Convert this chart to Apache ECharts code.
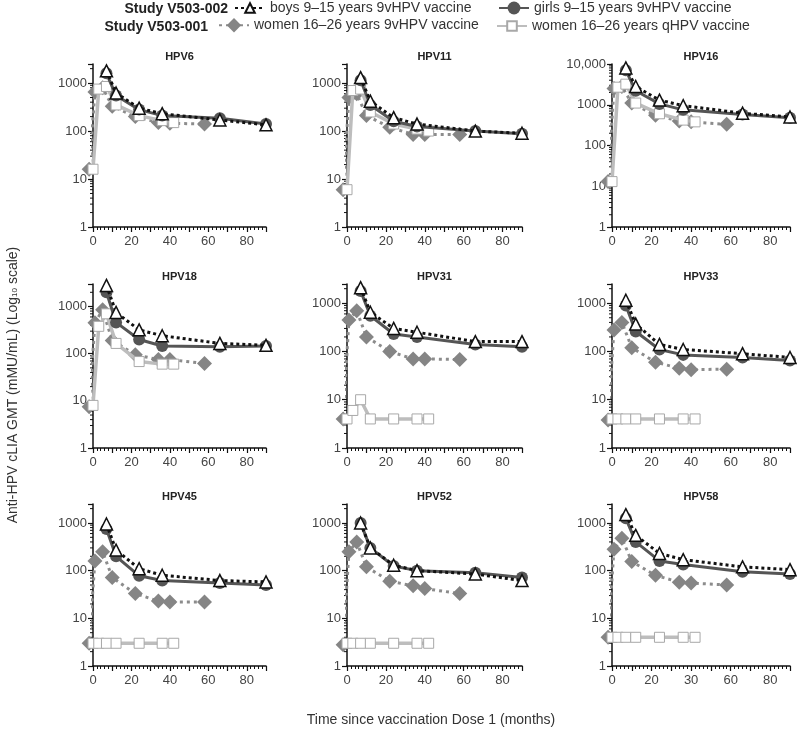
<!DOCTYPE html>
<html><head><meta charset="utf-8">
<script src="https://cdn.jsdelivr.net/npm/echarts@6/dist/echarts.min.js"></script>
<style>html,body{margin:0;padding:0;background:#fff}#c{width:797px;height:732px}</style>
</head><body><div id="c"></div>
<script>
// ---- data ----
const panels = ['HPV6','HPV11','HPV16','HPV18','HPV31','HPV33','HPV45','HPV52','HPV58'];
const yMax = [2500, 2500, 10000, 3000, 2500, 2500, 2500, 2500, 2500];
const xTicksDefault = ['0','20','40','60','80'];
const xTicksHPV58 = ['0','20','30','60','80'];

const boysX = [7, 12, 24, 36, 66, 90];
const girlsX = [7, 12, 24, 36, 66, 90];
const women9X = [-2, 1, 5, 10, 22, 34, 40, 58];
const womenQX = [0, 3, 7, 12, 24, 36, 42];

const boysGMT = [
  [1800, 620, 300, 230, 170, 135],
  [1300, 420, 190, 140, 100, 90],
  [8000, 2800, 1300, 950, 620, 500],
  [2800, 750, 320, 240, 165, 150],
  [2100, 650, 300, 250, 160, 160],
  [1150, 370, 140, 110, 90, 75],
  [950, 270, 110, 80, 62, 58],
  [1000, 300, 130, 100, 85, 62],
  [1500, 550, 230, 170, 120, 105]
];
const girlsGMT = [
  [1600, 550, 280, 210, 185, 140],
  [1150, 350, 160, 125, 100, 88],
  [7000, 2200, 1050, 750, 580, 480],
  [2000, 460, 200, 145, 140, 145],
  [1800, 550, 230, 200, 140, 125],
  [900, 260, 110, 85, 75, 65],
  [750, 200, 78, 62, 55, 50],
  [1000, 300, 125, 100, 90, 72],
  [1250, 400, 160, 135, 95, 85]
];
const women9GMT = [
  [16, 650, 800, 330, 200, 150, 145, 140],
  [6, 500, 600, 210, 120, 85, 85, 85],
  [13, 2500, 2800, 1100, 550, 400, 380, 330],
  [7.5, 450, 850, 190, 95, 75, 75, 62],
  [4, 450, 700, 200, 100, 70, 70, 68],
  [3.8, 280, 400, 120, 60, 45, 42, 43],
  [3, 160, 250, 72, 33, 23, 22, 22],
  [2.8, 250, 400, 120, 60, 48, 42, 33],
  [4, 280, 480, 155, 80, 57, 55, 50]
];
const womenQGMT = [
  [16, 750, 850, 350, 210, 165, 150],
  [6, 700, 750, 250, 140, 110, 100],
  [13, 2700, 3200, 1100, 600, 420, 380],
  [8, 380, 700, 165, 68, 60, 60],
  [4, 6, 10, 4, 4, 4, 4],
  [4, 4, 4, 4, 4, 4, 4],
  [3, 3, 3, 3, 3, 3, 3],
  [3, 3, 3, 3, 3, 3, 3],
  [4, 4, 4, 4, 4, 4, 4]
];

const NAME_BOYS = 'boys 9\u201315 years 9vHPV vaccine';
const NAME_GIRLS = 'girls 9\u201315 years 9vHPV vaccine';
const NAME_W9 = 'women 16\u201326 years 9vHPV vaccine';
const NAME_WQ = 'women 16\u201326 years qHPV vaccine';

// ---- layout ----
const FONT = "'Liberation Sans', Arial, Helvetica, sans-serif";
const colLeft = [93, 347, 612], colW = [173, 175, 178];
const rowTop = [64, 284, 504], rowH = [163, 164, 162];

const zip = (xs, ys) => xs.map((x, i) => [x, ys[i]]);
function minorValues(max) {
  const out = [];
  for (let p = 1; p < max; p *= 10) {
    for (let k = 2; k <= 9; k++) { if (k * p < max) out.push([0, k * p]); }
  }
  return out;
}

const grid = [], xAxis = [], yAxis = [], series = [], graphic = [];
panels.forEach((name, i) => {
  const r = Math.floor(i / 3), c = i % 3;
  grid.push({left: colLeft[c], top: rowTop[r], width: colW[c], height: rowH[r]});
  const labels = name === 'HPV58' ? xTicksHPV58 : xTicksDefault;
  xAxis.push({
    gridIndex: i, type: 'value', min: 0, max: 90, interval: 10,
    axisLine: {show: true, onZero: false, lineStyle: {color: '#111', width: 1.5}},
    axisTick: {show: true, length: 5, lineStyle: {color: '#111', width: 1.2}},
    minorTick: {show: true, splitNumber: 5, length: 3, lineStyle: {color: '#111', width: 1}},
    splitLine: {show: false},
    axisLabel: {
      color: '#444', fontSize: 13, fontFamily: FONT, margin: 8,
      formatter: v => (Math.round(v) % 20 === 0 && Math.round(v) <= 80) ? labels[Math.round(v) / 20] : ''
    }
  });
  yAxis.push({
    gridIndex: i, type: 'log', logBase: 10, min: 1, max: yMax[i],
    axisLine: {show: true, onZero: false, lineStyle: {color: '#111', width: 1.5}},
    axisTick: {show: true, length: 5, lineStyle: {color: '#111', width: 1.2}},
    splitLine: {show: false},
    axisLabel: {
      color: '#444', fontSize: 13, fontFamily: FONT, margin: 6,
      formatter: v => {
        const l = Math.log10(v);
        if (Math.abs(l - Math.round(l)) > 1e-6) return '';
        const n = Math.round(v);
        return n >= 10000 ? '10,000' : String(n);
      }
    }
  });
  // minor log ticks
  series.push({
    type: 'custom', xAxisIndex: i, yAxisIndex: i, silent: true, clip: false,
    data: minorValues(yMax[i]),
    renderItem: (params, api) => {
      const p = api.coord([api.value(0), api.value(1)]);
      return {type: 'line', shape: {x1: p[0] - 3, y1: p[1], x2: p[0], y2: p[1]},
              style: {stroke: '#111', lineWidth: 1}};
    },
    z: 1
  });
  series.push({
    name: NAME_W9, type: 'line', xAxisIndex: i, yAxisIndex: i, clip: false,
    data: zip(women9X, women9GMT[i]),
    symbol: 'diamond', symbolSize: 15,
    itemStyle: {color: '#858585', borderColor: '#858585', borderWidth: 0},
    lineStyle: {color: '#8c8c8c', width: 3, type: [3, 4]},
    z: 2
  });
  series.push({
    name: NAME_WQ, type: 'line', xAxisIndex: i, yAxisIndex: i, clip: false,
    data: zip(womenQX, womenQGMT[i]),
    symbol: 'rect', symbolSize: 10,
    itemStyle: {color: '#ffffff', borderColor: '#a8a8a8', borderWidth: 1},
    lineStyle: {color: '#bdbdbd', width: 3.5},
    z: 3
  });
  series.push({
    name: NAME_GIRLS, type: 'line', xAxisIndex: i, yAxisIndex: i, clip: false,
    data: zip(girlsX, girlsGMT[i]),
    symbol: 'circle', symbolSize: 12,
    itemStyle: {color: '#555555', borderColor: '#555555', borderWidth: 0},
    lineStyle: {color: '#555555', width: 3},
    z: 4
  });
  series.push({
    name: NAME_BOYS, type: 'line', xAxisIndex: i, yAxisIndex: i, clip: false,
    data: zip(boysX, boysGMT[i]),
    symbol: 'triangle', symbolSize: 12,
    itemStyle: {color: '#ffffff', borderColor: '#111111', borderWidth: 1.5},
    lineStyle: {color: '#111111', width: 3, type: [3, 3]},
    z: 5
  });
  graphic.push({
    type: 'text', x: colLeft[c] + colW[c] / 2, y: rowTop[r] - 7,
    style: {text: name, textAlign: 'center', textVerticalAlign: 'middle',
            font: 'bold 11px ' + FONT, fill: '#222'}
  });
});

graphic.push({
  type: 'text', x: 228, y: 9,
  style: {text: 'Study V503-002', textAlign: 'right', textVerticalAlign: 'middle', font: 'bold 14px ' + FONT, fill: '#222'}
});
graphic.push({
  type: 'text', x: 208, y: 27,
  style: {text: 'Study V503-001', textAlign: 'right', textVerticalAlign: 'middle', font: 'bold 14px ' + FONT, fill: '#222'}
});
graphic.push({
  type: 'text', x: 431, y: 720,
  style: {text: 'Time since vaccination Dose 1 (months)', textAlign: 'center', textVerticalAlign: 'middle', font: '14px ' + FONT, fill: '#333'}
});
graphic.push({
  type: 'text', x: 11, y: 385, rotation: Math.PI / 2,
  style: {
    text: '{a|Anti-HPV cLIA GMT (mMU/mL) (Log}{b|10}{a| scale)}',
    textAlign: 'center', textVerticalAlign: 'middle',
    rich: {
      a: {fontSize: 14, fontFamily: FONT, fill: '#333', lineHeight: 18, verticalAlign: 'bottom'},
      b: {fontSize: 8, fontFamily: FONT, fill: '#333', lineHeight: 8, verticalAlign: 'bottom', padding: [0, 0, 1, 0]}
    }
  }
});

const legendText = {fontSize: 14, color: '#333', fontFamily: FONT};
const legend = [
  {data: [NAME_BOYS], left: 234, top: 1, itemWidth: 30, itemHeight: 12, padding: 0, textStyle: legendText},
  {data: [NAME_GIRLS], left: 498, top: 1, itemWidth: 30, itemHeight: 16, padding: 0, textStyle: legendText},
  {data: [NAME_W9], left: 218, top: 18, itemWidth: 30, itemHeight: 18, padding: 0, textStyle: legendText},
  {data: [NAME_WQ], left: 496, top: 19, itemWidth: 30, itemHeight: 12, padding: 0, textStyle: legendText}
];

const chart = echarts.init(document.getElementById('c'));
chart.setOption({
  animation: false,
  backgroundColor: '#ffffff',
  textStyle: {fontFamily: FONT},
  legend, grid, xAxis, yAxis, series, graphic
});
</script>
</body></html>
